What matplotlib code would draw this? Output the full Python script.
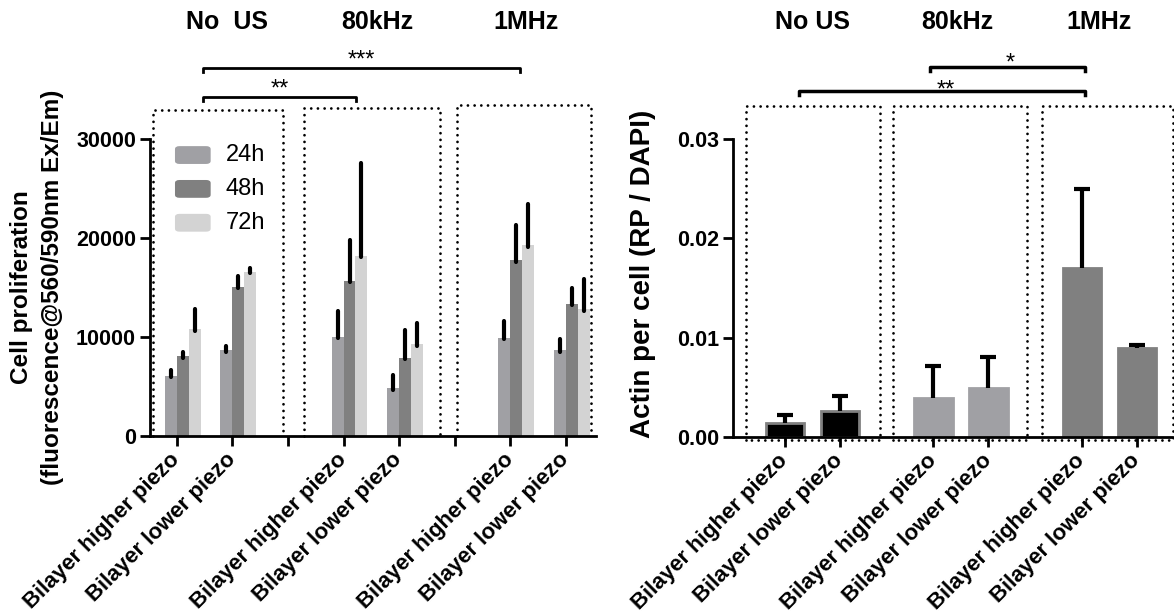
import matplotlib
matplotlib.use("Agg")
import matplotlib.pyplot as plt
import matplotlib.transforms as mtransforms
from matplotlib.patches import FancyBboxPatch
import numpy as np

plt.rcParams["font.family"] = ["Liberation Sans", "DejaVu Sans"]
plt.rcParams["font.weight"] = "bold"

# ---- data ----
groups = ["No  US", "80kHz", "1MHz"]
groups_right = ["No US", "80kHz", "1MHz"]
samples = ["Bilayer higher piezo", "Bilayer lower piezo"]
series = ["24h", "48h", "72h"]

prolif_24h = [6100, 8650, 10050, 4800, 9900, 8650]
prolif_24h_err = [600, 450, 2550, 1400, 1750, 1100]
prolif_48h = [8050, 15100, 15700, 7900, 17750, 13350]
prolif_48h_err = [400, 1100, 4100, 2800, 3600, 1600]
prolif_72h = [10800, 16600, 18200, 9250, 19250, 12800]
prolif_72h_err = [2050, 400, 9350, 2150, 4200, 3050]

actin = [0.0014, 0.0026, 0.0039, 0.0049, 0.0170, 0.0090]
actin_err = [0.0008, 0.0015, 0.0032, 0.0032, 0.0080, 0.0003]

# significance: (group a, group b, label)
sig_left = [(0, 2, "***"), (0, 1, "**")]
sig_right = [(1, 2, "*"), (0, 2, "**")]

series_colors = ["#a0a0a4", "#808080", "#d3d3d3"]
group_colors_right = ["#000000", "#a0a0a4", "#808080"]

fig = plt.figure(figsize=(11.74, 6.13), dpi=100)
ax1 = fig.add_axes([150 / 1174, 1 - 436 / 613, 446 / 1174, 297 / 613])
ax2 = fig.add_axes([733 / 1174, 1 - 437 / 613, 439 / 1174, 298 / 613])

dot_style = dict(color="black", lw=2.0, ls=(0, (0.01, 2.4)),
                 dash_capstyle="round", clip_on=False)


def style_axes(ax):
    for side in ["top", "right"]:
        ax.spines[side].set_visible(False)
    for side in ["left", "bottom"]:
        ax.spines[side].set_linewidth(2)
    ax.tick_params(axis="both", width=2, length=7, labelsize=15.5, pad=3)
    ax.tick_params(axis="x", labelsize=16, pad=8)


# ---- left panel: cell proliferation ----
n = len(samples)
pos_left = np.array([g * 3 + i for g in range(len(groups)) for i in range(n)])
w = 0.215
offsets = [-0.5 * w, 0.5 * w, 1.5 * w]
all_vals = [(prolif_24h, prolif_24h_err), (prolif_48h, prolif_48h_err),
            (prolif_72h, prolif_72h_err)]

for (vals, errs), off, col in zip(all_vals, offsets, series_colors):
    x = pos_left + off
    ax1.bar(x, vals, width=w, color=col, zorder=2)
    ax1.vlines(x, np.array(vals) - 150, np.array(vals) + np.array(errs),
               color="black", lw=3, capstyle="round", zorder=3)

ax1.set_xlim(-0.48, 7.54)
ax1.set_ylim(0, 30000)
ax1.set_yticks([0, 10000, 20000, 30000])
ticks_left = list(range(8))
tick_labels_left = [samples[t % 3] if t % 3 < 2 else "" for t in ticks_left]
ax1.set_xticks(ticks_left)
ax1.set_xticklabels(tick_labels_left, rotation=45, ha="right",
                    va="center", rotation_mode="anchor")
style_axes(ax1)
ax1.text(-0.289, 0.5, "Cell proliferation", transform=ax1.transAxes,
         rotation=90, ha="center", va="center", fontsize=17.5)
ax1.text(-0.219, 0.5, "(fluorescence@560/590nm Ex/Em)", transform=ax1.transAxes,
         rotation=90, ha="center", va="center", fontsize=17.5)

boxes_left = [(-0.43, 1.91, 32900), (2.29, 4.74, 33150), (5.04, 7.45, 33450)]
for x0, x1, top in boxes_left:
    ax1.plot([x0, x0, x1, x1], [0, top, top, 0], **dot_style)

# legend
for k, (name, col) in enumerate(zip(series, series_colors)):
    yc = 0.946 - k * 0.114
    ax1.add_patch(FancyBboxPatch((0.056, yc - 0.03), 0.08, 0.06,
                                 boxstyle="round,pad=0,rounding_size=0.01",
                                 transform=ax1.transAxes, color=col, lw=0))
    ax1.text(0.17, yc, name, transform=ax1.transAxes, fontsize=17,
             fontweight="normal", va="center", ha="left")

# brackets left
group_centers_left = [0.47, 3.22, 6.17]
bracket_y_left = {"***": 37200, "**": 34250}
for a, b, lab in sig_left:
    xa, xb = group_centers_left[a], group_centers_left[b]
    yb = bracket_y_left[lab]
    ax1.plot([xa, xa, xb, xb], [yb - 450, yb, yb, yb - 450], color="black",
             lw=2, clip_on=False)
    ax1.text((xa + xb) / 2, yb + 100, lab, ha="center", va="baseline",
             fontsize=17, fontweight="normal")

# ---- right panel: actin ----
pos_right = np.array([g * 2.7 + i for g in range(len(groups_right)) for i in range(n)])
bar_cols = [group_colors_right[g] for g in range(len(groups_right)) for _ in range(n)]
edge_cols = ["#808080" if c == "#000000" else c for c in bar_cols]
ax2.bar(pos_right, actin, width=0.7, color=bar_cols, edgecolor=edge_cols,
        linewidth=2, zorder=2)
tops = np.array(actin) + np.array(actin_err)
ax2.vlines(pos_right, actin, tops, color="black", lw=3, zorder=3)
ax2.plot(pos_right, tops, ls="none", marker="_", ms=12, mew=3,
         color="black", zorder=3)

ax2.set_xlim(-0.945, 7.04)
ax2.set_ylim(0, 0.03)
ax2.set_yticks([0, 0.01, 0.02, 0.03])
ax2.set_yticklabels(["0.00", "0.01", "0.02", "0.03"])
ax2.set_xticks(pos_right)
ax2.set_xticklabels(samples * len(groups_right), rotation=45, ha="right",
                    va="center", rotation_mode="anchor")
style_axes(ax2)
ax2.text(-0.205, 0.547, "Actin per cell (RP / DAPI)", transform=ax2.transAxes,
         rotation=90, ha="center", va="center", fontsize=20)

boxes_right = [(-0.71, 1.73), (1.97, 4.41), (4.67, 7.05)]
for x0, x1 in boxes_right:
    ax2.plot([x0, x0, x1, x1, x0], [-0.0003, 0.0333, 0.0333, -0.0003, -0.0003],
             **dot_style)

group_centers_right = [0.25, 2.64, 5.45]
bracket_y_right = {"*": 0.0372, "**": 0.0348}
text_pos_right = {"*": (4.09, 0.0370), "**": (2.93, 0.0343)}
for a, b, lab in sig_right:
    xa, xb = group_centers_right[a], group_centers_right[b]
    yb = bracket_y_right[lab]
    ax2.plot([xa, xa, xb, xb], [yb - 0.00035, yb, yb, yb - 0.00035],
             color="black", lw=2.5, clip_on=False)
    tx, ty = text_pos_right[lab]
    ax2.text(tx, ty, lab, ha="center", va="baseline",
             fontsize=17, fontweight="normal")

# group titles
title_y = 1 - 22 / 613
for ax, names, centers in [(ax1, groups, [0.90, 3.6, 6.28]),
                           (ax2, groups_right, [0.51, 3.13, 5.71])]:
    trans = mtransforms.blended_transform_factory(ax.transData, fig.transFigure)
    for name, xc in zip(names, centers):
        ax.text(xc, title_y, name, transform=trans, ha="center",
                va="center", fontsize=18)

fig.savefig("out.png", dpi=100)
